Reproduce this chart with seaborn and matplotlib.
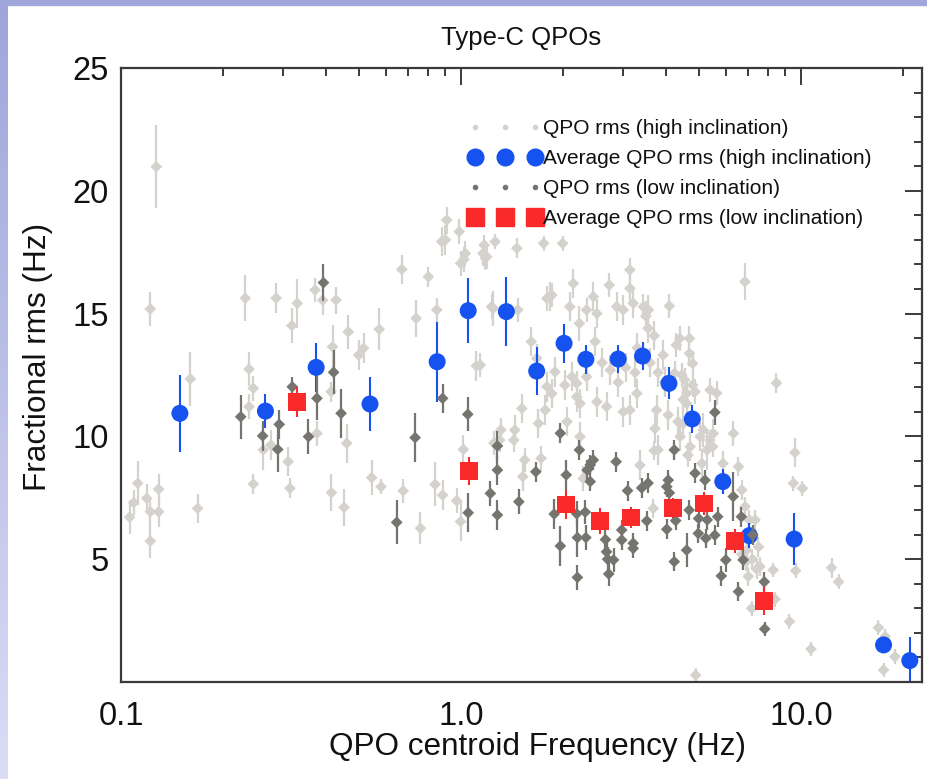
import numpy as np
import pandas as pd
import matplotlib
matplotlib.use("Agg")
import matplotlib.pyplot as plt
from matplotlib.lines import Line2D
from matplotlib.patches import Rectangle
from matplotlib.colors import LinearSegmentedColormap
from matplotlib.ticker import FixedLocator, NullFormatter
import seaborn as sns

# ---------------- data ----------------
# QPO rms, high inclination sources (light grey diamonds)
hi_freq = [0.106, 0.109, 0.112, 0.119, 0.122, 0.122, 0.129, 0.129, 0.122, 0.127,
           0.160, 0.168, 0.232, 0.238, 0.238, 0.245, 0.245, 0.262, 0.276, 0.286,
           0.310, 0.314, 0.318, 0.330, 0.372, 0.377, 0.392, 0.415, 0.416, 0.419,
           0.429, 0.453, 0.461, 0.466, 0.500, 0.517, 0.546, 0.575, 0.582, 0.670,
           0.676, 0.738, 0.760, 0.802, 0.839, 0.849, 0.877, 0.883, 0.900, 0.908,
           0.971, 0.988, 0.997, 0.997, 1.016, 1.02, 1.03, 1.11, 1.14, 1.16,
           1.17, 1.18, 1.19, 1.23, 1.245, 1.25, 1.26, 1.30, 1.31, 1.43,
           1.44, 1.46, 1.47, 1.51, 1.52, 1.54, 1.61, 1.67, 1.69, 1.72,
           1.75, 1.77, 1.79, 1.79, 1.83, 1.85, 1.85, 1.89, 1.99, 2.02,
           2.05, 2.09, 2.12, 2.14, 2.19, 2.19, 2.23, 2.24, 2.24, 2.29,
           2.34, 2.34, 2.45, 2.48, 2.51, 2.51, 2.60, 2.68, 2.73, 2.75,
           2.87, 2.90, 3.00, 3.00, 3.05, 3.14, 3.14, 3.14, 3.21, 3.25,
           3.29, 3.30, 3.36, 3.44, 3.50, 3.55, 3.56, 3.60, 3.68, 3.70,
           3.70, 3.72, 3.76, 3.80, 3.80, 3.93, 3.98, 4.07, 4.10, 4.25,
           4.30, 4.35, 4.40, 4.41, 4.46, 4.50, 4.51, 4.55, 4.61, 4.61,
           4.65, 4.70, 4.70, 4.72, 4.80, 4.80, 4.88, 4.90, 5.05, 5.11,
           5.16, 5.29, 5.40, 5.40, 5.52, 5.50, 5.65, 5.90, 6.33, 6.55,
           6.70, 6.70, 6.84, 6.85, 6.92, 6.90, 7.00, 7.05, 7.16, 7.20,
           7.33, 7.40, 7.50, 7.57, 8.28, 8.39, 8.47, 9.25, 9.50, 9.60,
           9.65, 10.1, 10.7, 12.3, 12.9, 16.9, 17.5, 17.7, 18.9]
hi_rms = [6.71, 7.30, 8.09, 7.48, 6.93, 5.74, 7.85, 6.93, 15.19, 20.98,
          12.34, 7.07, 15.63, 12.74, 11.21, 11.96, 8.06, 9.45, 9.65, 15.63,
          8.97, 7.89, 14.51, 15.42, 15.96, 10.12, 15.55, 11.82, 7.71, 13.65,
          15.55, 7.11, 9.72, 14.26, 13.31, 13.59, 8.32, 14.36, 7.95, 16.80,
          7.78, 14.81, 6.26, 16.50, 8.05, 15.15, 17.93, 7.61, 18.00, 18.81,
          7.38, 18.34, 17.05, 6.53, 9.47, 17.20, 17.45, 12.87, 12.91, 17.45,
          17.79, 17.26, 17.32, 15.28, 15.21, 9.73, 17.93, 9.85, 10.26, 9.85,
          10.26, 17.66, 15.15, 11.14, 8.36, 9.04, 13.86, 13.18, 10.53, 9.11,
          17.86, 11.07, 12.02, 15.62, 15.69, 15.76, 11.75, 12.63, 17.86, 12.09,
          10.60, 15.28, 12.43, 16.23, 11.61, 12.16, 14.60, 11.34, 9.99, 8.29,
          15.15, 12.43, 15.69, 13.86, 15.00, 11.41, 13.00, 11.21, 16.16, 12.70,
          15.28, 12.20, 15.15, 11.00, 12.80, 16.78, 16.03, 11.07, 15.42, 12.60,
          11.75, 13.60, 8.83, 15.28, 14.90, 14.40, 15.15, 13.00, 7.07, 14.10,
          9.42, 10.32, 11.07, 12.60, 9.45, 13.31, 12.22, 10.87, 15.31, 12.57,
          13.72, 10.60, 13.99, 9.99, 12.50, 11.50, 10.53, 12.30, 11.34, 11.75,
          9.24, 13.99, 13.38, 9.58, 12.97, 12.09, 11.82, 0.28, 9.99, 8.90,
          10.26, 9.45, 11.89, 9.85, 10.12, 9.58, 11.76, 8.90, 10.12, 8.77,
          7.82, 5.20, 16.30, 7.14, 5.37, 4.90, 4.30, 6.60, 3.00, 5.00,
          6.60, 4.60, 5.50, 4.70, 4.56, 3.37, 12.17, 2.46, 8.09, 9.34,
          4.53, 7.89, 1.34, 4.65, 4.08, 2.21, 0.49, 1.85, 1.03]
hi_err = [0.7, 0.5, 0.9, 0.6, 0.6, 0.7, 0.6, 0.6, 0.7, 1.7,
          1.1, 0.6, 0.95, 0.7, 0.5, 0.5, 0.4, 0.8, 0.6, 0.6,
          0.6, 0.4, 0.7, 1.0, 0.5, 0.5, 0.6, 0.4, 0.75, 0.9,
          0.55, 0.75, 0.8, 0.7, 0.6, 0.6, 0.7, 0.85, 0.3, 0.58,
          0.5, 0.75, 0.65, 0.4, 0.9, 0.5, 0.6, 0.6, 0.6, 0.55,
          0.5, 0.5, 0.5, 0.8, 0.6, 0.5, 0.5, 0.6, 0.5, 0.5,
          0.4, 0.5, 0.5, 0.5, 0.7, 0.5, 0.3, 0.5, 0.5, 0.5,
          0.6, 0.4, 0.5, 0.6, 0.6, 0.5, 0.6, 0.6, 0.6, 0.5,
          0.3, 0.6, 0.6, 0.5, 0.6, 0.5, 0.6, 0.6, 0.3, 0.6,
          0.6, 0.6, 0.6, 0.6, 0.6, 0.5, 0.7, 0.6, 0.6, 0.5,
          0.5, 0.6, 0.6, 0.6, 0.6, 0.6, 0.6, 0.6, 0.5, 0.6,
          0.6, 0.6, 0.6, 0.6, 0.6, 0.5, 0.6, 0.6, 0.6, 0.6,
          0.6, 0.6, 0.6, 0.5, 0.6, 0.6, 0.6, 0.6, 0.4, 0.6,
          0.4, 0.6, 0.6, 0.6, 0.6, 0.6, 0.6, 0.6, 0.5, 0.5,
          0.5, 0.6, 0.5, 0.6, 0.5, 0.5, 0.6, 0.5, 0.6, 0.6,
          0.5, 0.5, 0.5, 0.6, 0.5, 0.5, 0.5, 0.3, 0.6, 0.6,
          0.7, 0.8, 0.5, 0.4, 0.6, 0.4, 0.5, 0.5, 0.5, 0.4,
          0.4, 0.4, 0.75, 0.4, 0.4, 0.4, 0.4, 0.4, 0.3, 0.4,
          0.4, 0.4, 0.4, 0.4, 0.3, 0.3, 0.4, 0.3, 0.3, 0.6,
          0.3, 0.3, 0.3, 0.4, 0.3, 0.3, 0.3, 0.3, 0.3]

# QPO rms, low inclination sources (dark grey diamonds)
lo_freq = [0.225, 0.261, 0.289, 0.292, 0.319, 0.356, 0.377, 0.394, 0.422, 0.444,
           0.647, 0.733, 0.883, 1.047, 1.05, 1.22, 1.28, 1.28, 1.28, 1.48,
           1.66, 1.88, 1.96, 1.96, 2.04, 2.19, 2.20, 2.20, 2.23, 2.32,
           2.33, 2.35, 2.40, 2.40, 2.45, 2.66, 2.68, 2.70, 2.72, 2.81,
           2.86, 2.97, 2.97, 3.09, 3.21, 3.21, 3.40, 3.52, 3.55, 4.03,
           4.03, 4.07, 4.10, 4.24, 4.24, 4.28, 4.61, 4.69, 4.88, 4.99,
           5.00, 5.22, 5.25, 5.30, 5.58, 5.58, 5.69, 5.83, 6.01, 6.32,
           6.55, 6.68, 6.76, 7.21, 7.80, 7.82]
lo_rms = [10.80, 10.02, 9.47, 10.49, 12.02, 9.99, 11.55, 16.26, 12.61, 10.94,
          6.50, 9.95, 11.55, 10.90, 6.89, 7.68, 9.61, 8.63, 6.80, 7.34,
          8.56, 6.84, 10.13, 5.54, 8.43, 6.85, 5.88, 4.26, 9.45, 6.92,
          5.88, 8.63, 8.16, 8.84, 9.04, 5.80, 5.30, 5.00, 4.40, 4.97,
          8.97, 6.19, 5.78, 7.79, 5.65, 5.44, 7.90, 6.56, 8.10, 6.22,
          7.95, 8.22, 7.70, 9.45, 4.90, 6.57, 5.37, 7.00, 8.50, 6.05,
          6.66, 8.22, 5.85, 6.60, 10.98, 5.98, 6.73, 4.32, 4.97, 7.55,
          3.68, 6.73, 4.97, 5.99, 4.08, 2.16]
lo_err = [0.9, 0.6, 0.9, 0.6, 0.4, 0.7, 0.9, 0.75, 0.9, 1.0,
          0.9, 1.0, 0.6, 0.7, 0.8, 0.5, 0.6, 0.6, 0.6, 0.5,
          0.4, 0.6, 0.4, 0.8, 0.6, 0.5, 0.8, 0.5, 0.4, 0.5,
          0.5, 0.4, 0.4, 0.4, 0.4, 0.5, 0.5, 0.5, 0.5, 0.5,
          0.4, 0.4, 0.4, 0.4, 0.4, 0.4, 0.4, 0.4, 0.4, 0.4,
          0.4, 0.4, 0.4, 0.4, 0.4, 0.4, 0.7, 0.4, 0.4, 0.4,
          0.4, 0.4, 0.4, 0.4, 0.5, 0.4, 0.4, 0.4, 0.5, 1.0,
          0.4, 0.4, 0.4, 0.4, 0.4, 0.3]

# Average QPO rms, high inclination (blue circles)
avg_hi_freq = [0.149, 0.266, 0.375, 0.540, 0.851, 1.05, 1.36, 1.67, 2.01, 2.33,
               2.90, 3.42, 4.09, 4.79, 5.89, 7.05, 9.55, 17.5, 20.9]
avg_hi_rms = [10.94, 11.03, 12.81, 11.32, 13.04, 15.12, 15.08, 12.66, 13.79, 13.14,
              13.15, 13.27, 12.16, 10.71, 8.16, 5.96, 5.82, 1.51, 0.87]
avg_hi_err = [1.56, 0.70, 0.99, 1.10, 1.63, 1.31, 1.40, 0.98, 0.80, 0.59,
              0.58, 0.56, 0.65, 0.58, 0.50, 0.52, 1.06, 0.30, 0.98]

# Average QPO rms, low inclination (red squares)
avg_lo_freq = [0.330, 1.057, 2.04, 2.56, 3.16, 4.21, 5.20, 6.40, 7.80]
avg_lo_rms = [11.41, 8.60, 7.23, 6.56, 6.70, 7.07, 7.27, 5.74, 3.30]
avg_lo_err = [0.60, 0.58, 0.58, 0.54, 0.44, 0.41, 0.47, 0.47, 0.58]

series_labels = ["QPO rms (high inclination)", "Average QPO rms (high inclination)",
                 "QPO rms (low inclination)", "Average QPO rms (low inclination)"]
title_text = "Type-C QPOs"
x_label = "QPO centroid Frequency (Hz)"
y_label = "Fractional rms (Hz)"
x_major = [0.1, 1.0, 10.0]
x_major_labels = ["0.1", "1.0", "10.0"]
y_major = [5, 10, 15, 20, 25]

# ---------------- style ----------------
LIGHT = "#D5D2CD"
DARK = "#76746F"
BLUE = "#1652F0"
RED = "#FA2A2A"

sns.set_theme(style="white")
plt.rcParams["font.family"] = ["Liberation Sans", "DejaVu Sans"]

W, H = 927, 779
fig = plt.figure(figsize=(W / 100, H / 100), dpi=100)
fig.patch.set_facecolor("white")

# slide border (left gradient + top strip)
band = fig.add_axes([0, 0, 8 / W, 1])
grad = np.linspace(0, 1, 256).reshape(-1, 1)
band.imshow(grad, aspect="auto",
            cmap=LinearSegmentedColormap.from_list("b", ["#9FA5DB", "#DADDF5"]))
band.axis("off")
fig.add_artist(Rectangle((0, 1 - 5 / H), 1, 5 / H, transform=fig.transFigure,
                         color="#A0A6DC", zorder=5))

ax = fig.add_axes([121 / W, 1 - 682 / H, (922 - 121) / W, (682 - 68) / H])

df_hi = pd.DataFrame({"freq": hi_freq, "rms": hi_rms})
df_lo = pd.DataFrame({"freq": lo_freq, "rms": lo_rms})
df_ahi = pd.DataFrame({"freq": avg_hi_freq, "rms": avg_hi_rms})
df_alo = pd.DataFrame({"freq": avg_lo_freq, "rms": avg_lo_rms})

# light grey individual QPOs
ax.errorbar(hi_freq, hi_rms, yerr=hi_err, fmt="none", ecolor=LIGHT,
            elinewidth=1.6, capsize=0, zorder=1)
sns.scatterplot(data=df_hi, x="freq", y="rms", marker="D", s=36, color=LIGHT,
                edgecolor="none", linewidth=0, ax=ax, zorder=1.5, legend=False)

# blue averages
ax.errorbar(avg_hi_freq, avg_hi_rms, yerr=avg_hi_err, fmt="none", ecolor=BLUE,
            elinewidth=1.5, capsize=0, zorder=2)
sns.scatterplot(data=df_ahi, x="freq", y="rms", marker="o", s=150, color=BLUE,
                edgecolor="none", linewidth=0, ax=ax, zorder=2.5, legend=False)

# dark grey individual QPOs
ax.errorbar(lo_freq, lo_rms, yerr=lo_err, fmt="none", ecolor=DARK,
            elinewidth=1.6, capsize=0, zorder=3)
sns.scatterplot(data=df_lo, x="freq", y="rms", marker="D", s=36, color=DARK,
                edgecolor="none", linewidth=0, ax=ax, zorder=3.5, legend=False)

# red averages
ax.errorbar(avg_lo_freq, avg_lo_rms, yerr=avg_lo_err, fmt="none", ecolor=RED,
            elinewidth=1.5, capsize=0, zorder=4)
sns.scatterplot(data=df_alo, x="freq", y="rms", marker="s", s=165, color=RED,
                edgecolor="none", linewidth=0, ax=ax, zorder=4.5, legend=False)

# axes
ax.set_xscale("log")
ax.set_xlim(0.1, 22.7)
ax.set_ylim(0, 25)
ax.xaxis.set_major_locator(FixedLocator(x_major))
ax.set_xticklabels(x_major_labels)
ax.xaxis.set_minor_locator(FixedLocator([0.2, 0.3, 0.4, 0.5, 0.6, 0.7, 0.8, 0.9,
                                         2, 3, 4, 5, 6, 7, 8, 9, 20]))
ax.xaxis.set_minor_formatter(NullFormatter())
ax.yaxis.set_major_locator(FixedLocator(y_major))
ax.yaxis.set_minor_locator(FixedLocator(list(range(1, 25))))

for sp in ax.spines.values():
    sp.set_color("#3a3a3a")
    sp.set_linewidth(1.6)
ax.tick_params(which="both", direction="in", top=True, right=True,
               color="#3a3a3a", width=1.4)
ax.tick_params(which="major", length=12)
ax.tick_params(which="minor", length=6)
ax.tick_params(axis="x", which="major", labelsize=23.5, pad=14, labelcolor="#111111")
ax.tick_params(axis="y", which="major", labelsize=23.5, pad=9, labelcolor="#111111")

ax.set_xlabel(x_label, fontsize=22.7, color="#111111")
ax.set_ylabel(y_label, fontsize=22.7, color="#111111")
ax.xaxis.set_label_coords(0.52, -0.082, transform=ax.transAxes)
ax.yaxis.set_label_coords(-0.104, 0.53, transform=ax.transAxes)
ax.xaxis.label.set_va("top")
ax.yaxis.label.set_va("center")
fig.text(521 / W, 1 - 38 / H, title_text, ha="center", va="center",
         fontsize=18.5, color="#111111")

handles = [
    Line2D([], [], ls="", marker="o", ms=3, color=LIGHT),
    Line2D([], [], ls="", marker="o", ms=12, color=BLUE),
    Line2D([], [], ls="", marker="o", ms=3, color=DARK),
    Line2D([], [], ls="", marker="s", ms=12.5, color=RED),
]
leg = ax.legend(handles, series_labels, loc="upper left",
                bbox_to_anchor=(0.424, 0.93), frameon=False, numpoints=3,
                handlelength=3.46, handletextpad=0.08, labelspacing=0.52,
                fontsize=15, borderaxespad=0, borderpad=0.4)
for t in leg.get_texts():
    t.set_color("#111111")

fig.savefig("out.png", dpi=100)
